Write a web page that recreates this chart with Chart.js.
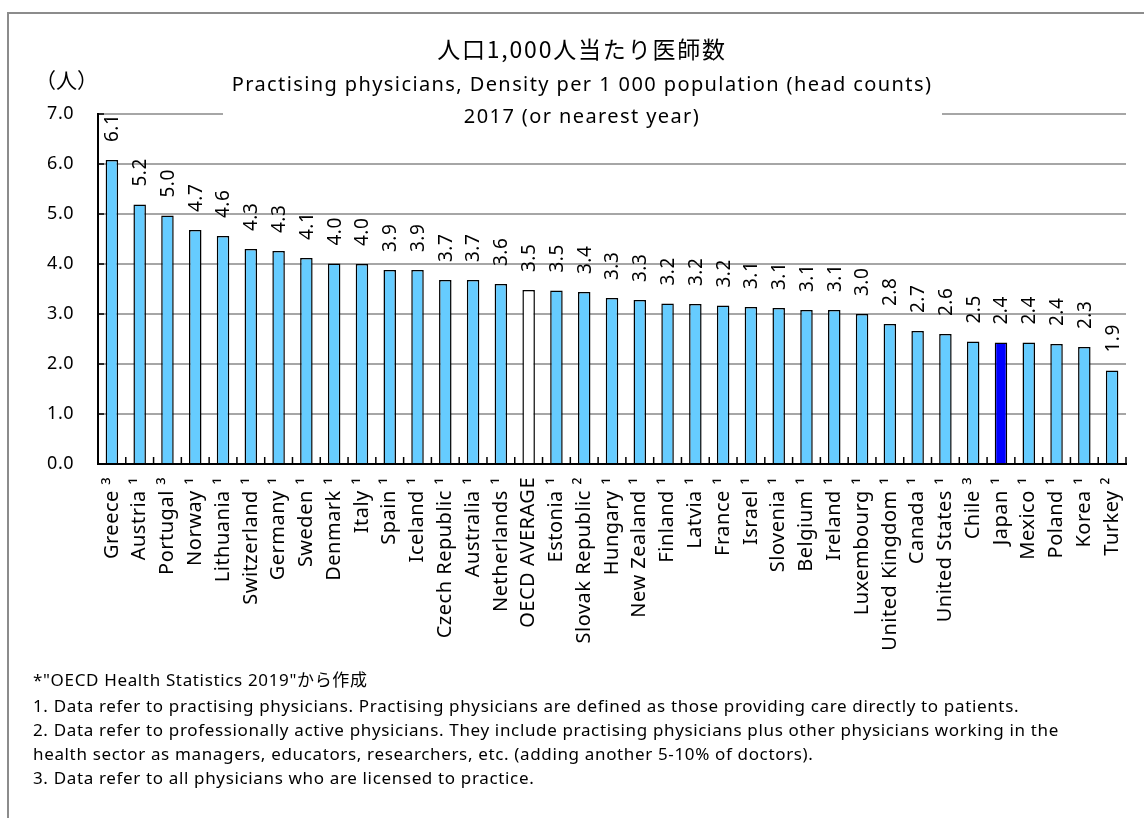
<!DOCTYPE html>
<html>
<head>
<meta charset="utf-8">
<script src="https://cdn.jsdelivr.net/npm/chart.js@4"></script>
<style>
  html, body { margin: 0; padding: 0; background: #fff; }
</style>
</head>
<body>
<canvas id="chart" width="1144" height="818"></canvas>
<script>
// data
const countries = ['Greece', 'Austria', 'Portugal', 'Norway', 'Lithuania', 'Switzerland', 'Germany', 'Sweden',
  'Denmark', 'Italy', 'Spain', 'Iceland', 'Czech Republic', 'Australia', 'Netherlands', 'OECD AVERAGE',
  'Estonia', 'Slovak Republic', 'Hungary', 'New Zealand', 'Finland', 'Latvia', 'France', 'Israel',
  'Slovenia', 'Belgium', 'Ireland', 'Luxembourg', 'United Kingdom', 'Canada', 'United States', 'Chile',
  'Japan', 'Mexico', 'Poland', 'Korea', 'Turkey'];
const notes = ['3', '1', '3', '1', '1', '1', '1', '1',
  '1', '1', '1', '1', '1', '1', '1', '',
  '1', '2', '1', '1', '1', '1', '1', '1',
  '1', '1', '1', '1', '1', '1', '1', '3',
  '1', '1', '1', '1', '2'];
const density = [6.08, 5.19, 4.97, 4.68, 4.56, 4.3, 4.26, 4.12,
  4.01, 4.0, 3.88, 3.88, 3.68, 3.68, 3.6, 3.48,
  3.47, 3.44, 3.32, 3.28, 3.21, 3.2, 3.17, 3.14,
  3.12, 3.08, 3.08, 3.0, 2.8, 2.66, 2.6, 2.45,
  2.43, 2.43, 2.4, 2.34, 1.87];
const yTickLabels = ['0.0', '1.0', '2.0', '3.0', '4.0', '5.0', '6.0', '7.0'];

const titleLines = ['人口1,000人当たり医師数',
  'Practising physicians, Density per 1 000 population (head counts)',
  '2017 (or nearest year)'];
const footLines = ['*"OECD Health Statistics 2019"から作成',
  '1. Data refer to practising physicians. Practising physicians are defined as those providing care directly to patients.',
  '2. Data refer to professionally active physicians. They include practising physicians plus other physicians working in the',
  'health sector as managers, educators, researchers, etc. (adding another 5-10% of doctors).',
  '3. Data refer to all physicians who are licensed to practice.'];

const sup = { '1': '\u00b9', '2': '\u00b2', '3': '\u00b3' };
const labels = countries.map((c, i) => notes[i] ? c + ' ' + sup[notes[i]] : c);
const colors = countries.map(c => c === 'Japan' ? '#0000ff' : (c === 'OECD AVERAGE' ? '#ffffff' : '#66ccff'));

const SANS = '"Noto Sans", "Noto Sans CJK JP", sans-serif';
const CJK = '"Noto Sans CJK JP", sans-serif';

const framePlugin = {
  id: 'frame',
  beforeDraw(chart) {
    const c = chart.ctx;
    c.save();
    c.fillStyle = '#fff';
    c.fillRect(0, 0, chart.width, chart.height);
    c.strokeStyle = '#8c8c8c';
    c.lineWidth = 2;
    c.beginPath();
    c.moveTo(8, chart.height);
    c.lineTo(8, 13);
    c.lineTo(chart.width, 13);
    c.stroke();
    c.restore();
    // excel spreads its axis text out a little
    c.letterSpacing = '0.5px';
  }
};

// small tick marks pointing into the plot, like the excel original
const innerTicks = {
  id: 'innerTicks',
  afterDatasetsDraw(chart) {
    const c = chart.ctx, xs = chart.scales.x, ys = chart.scales.y;
    const n = labels.length;
    c.save();
    c.strokeStyle = '#000';
    c.lineWidth = 1.5;
    c.beginPath();
    for (let i = 0; i <= n; i++) {
      let x = xs.left + i * (xs.right - xs.left) / n;
      c.moveTo(x, ys.bottom);
      c.lineTo(x, ys.bottom - 7);
    }
    for (let i = 0; i < yTickLabels.length; i++) {
      let y = ys.getPixelForValue(i);
      c.moveTo(xs.left, y);
      c.lineTo(xs.left + 6, y);
    }
    c.stroke();
    c.restore();
  }
};

const valueLabels = {
  id: 'valueLabels',
  afterDatasetsDraw(chart) {
    const c = chart.ctx;
    const meta = chart.getDatasetMeta(0);
    c.save();
    c.letterSpacing = '0.5px';
    c.fillStyle = '#000';
    c.font = '19px ' + SANS;
    c.textAlign = 'left';
    c.textBaseline = 'middle';
    meta.data.forEach((bar, i) => {
      c.save();
      c.translate(bar.x + 1, bar.y - 18);
      c.rotate(-Math.PI / 2);
      c.fillText(density[i].toFixed(1), 0, 0);
      c.restore();
    });
    c.restore();
  }
};

const textPlugin = {
  id: 'texts',
  afterDraw(chart) {
    const c = chart.ctx;
    c.save();
    // title box hides the top gridline
    c.fillStyle = '#fff';
    c.fillRect(223, 106, 719, 16);
    c.fillStyle = '#000';
    c.textAlign = 'center';
    c.textBaseline = 'middle';
    c.letterSpacing = '1.8px';
    c.font = '23px ' + CJK;
    c.fillText(titleLines[0], 582, 49);
    c.letterSpacing = '1.4px';
    c.font = '20px ' + SANS;
    c.fillText(titleLines[1], 582, 85);
    c.fillText(titleLines[2], 582, 117);
    c.letterSpacing = '0px';
    c.textAlign = 'left';
    c.font = '21px ' + CJK;
    c.fillText('（人）', 35, 80);
    c.letterSpacing = '0.65px';
    c.font = '17px ' + SANS;
    const ys = [681, 707, 731, 755, 779];
    footLines.forEach((t, i) => c.fillText(t, 33, ys[i]));
    c.restore();
    c.letterSpacing = '0px';
  }
};

const ctx = document.getElementById('chart');
new Chart(ctx, {
  type: 'bar',
  data: {
    labels: labels,
    datasets: [{
      data: density,
      backgroundColor: colors,
      borderColor: '#000',
      borderWidth: 1.5,
      categoryPercentage: 1,
      barPercentage: 0.45
    }]
  },
  options: {
    responsive: false,
    animation: false,
    layout: { padding: { top: 114, right: 18, left: 0, bottom: 0 } },
    plugins: { legend: { display: false }, tooltip: { enabled: false } },
    scales: {
      x: {
        grid: { display: false },
        border: { color: '#000', width: 2 },
        ticks: {
          color: '#000',
          font: { family: SANS, size: 20 },
          minRotation: 90,
          maxRotation: 90,
          autoSkip: false,
          padding: 5
        },
        afterFit(s) { s.height = 354; }
      },
      y: {
        min: 0,
        max: 7,
        ticks: {
          stepSize: 1,
          color: '#000',
          font: { family: SANS, size: 18 },
          padding: 24,
          callback: (v) => yTickLabels[v]
        },
        grid: { color: '#a6a6a6', lineWidth: 2, drawTicks: false },
        border: { color: '#000', width: 2 },
        afterFit(s) { s.width = 98; }
      }
    }
  },
  plugins: [framePlugin, innerTicks, valueLabels, textPlugin]
});
</script>
</body>
</html>
